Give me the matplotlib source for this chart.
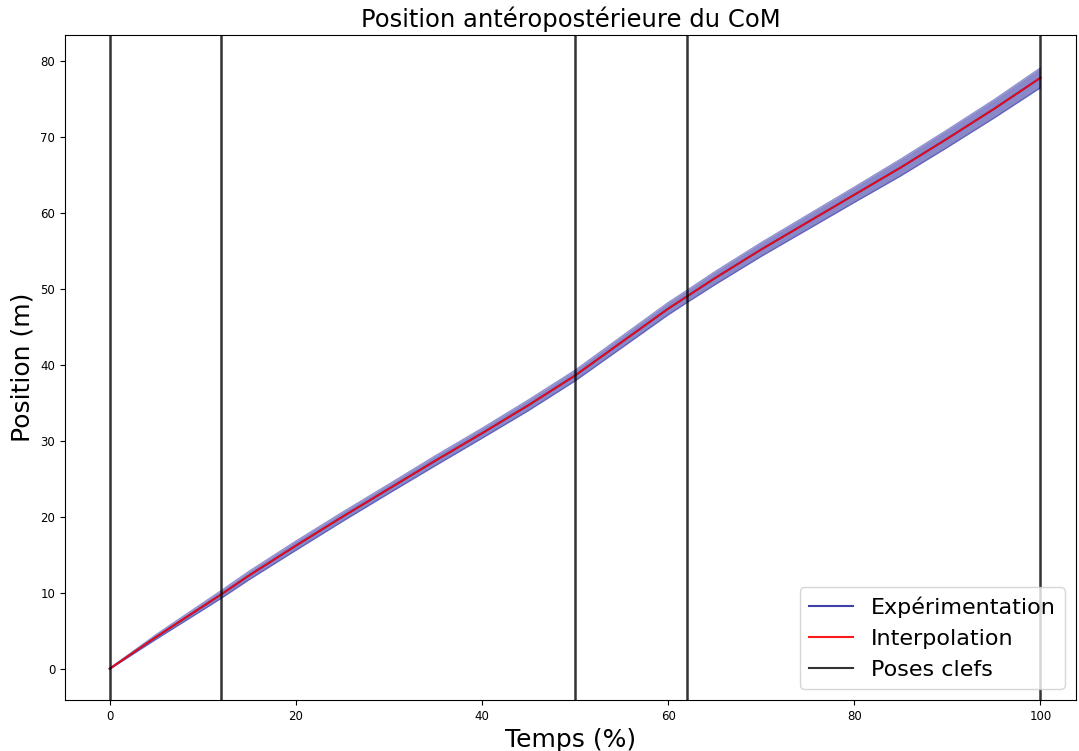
import matplotlib
matplotlib.use('Agg')
import matplotlib.pyplot as plt
import numpy as np

# Temps (%) and mean position of the CoM (m)
temps = [0, 5, 10, 12, 15, 20, 25, 30, 35, 40, 45, 50, 55, 60, 62, 65, 70, 75, 80, 85, 90, 95, 100]
position = [0, 4.2, 8.2, 9.8, 12.3, 16.2, 20.0, 23.7, 27.4, 31.0, 34.7, 38.6, 43.0, 47.4, 49.0,
            51.4, 55.2, 58.8, 62.4, 66.0, 69.8, 73.7, 77.8]
# spread of the experiments around the mean
ecart = [0.05, 0.3, 0.45, 0.5, 0.55, 0.6, 0.6, 0.6, 0.65, 0.65, 0.7, 0.7, 0.75, 0.8, 0.8,
         0.85, 0.9, 0.95, 1.0, 1.1, 1.15, 1.2, 1.3]
# key poses
poses_clefs = [0, 12, 50, 62, 100]


def main():
    fig = plt.figure(figsize=(10.79, 7.51), dpi=100)
    ax = fig.add_axes([0.0602, 0.068, 0.9368, 0.885])

    t = np.array(temps)
    p = np.array(position)
    e = np.array(ecart)

    # Experiments band
    ax.fill_between(t, p - e, p + e, color='#3a3aa8', alpha=0.6, linewidth=0)
    ax.plot(t, p - e, color='#4a4ab0', alpha=0.6, linewidth=1)
    ax.plot(t, p + e, color='#4a4ab0', alpha=0.6, linewidth=1)
    ax.plot(t, p, color='#4040a8', linewidth=1.5, label='Expérimentation')

    # Interpolation
    ax.plot(t, p, color='red', linewidth=1.3, alpha=0.9, label='Interpolation')

    # Key poses
    for i, x in enumerate(poses_clefs):
        ax.axvline(x=x, color='k', alpha=0.8, linewidth=1.8,
                   label='Poses clefs' if i == 0 else None)

    ax.set_xlim(-4.8, 103.8)
    ax.set_ylim(-4.1, 83.4)
    ax.set_xticks([0, 20, 40, 60, 80, 100])
    ax.set_yticks([0, 10, 20, 30, 40, 50, 60, 70, 80])
    ax.tick_params(labelsize=8.5)

    ax.set_title('Position antéropostérieure du CoM', fontsize=17.5)
    ax.set_xlabel('Temps (%)', fontsize=18)
    ax.set_ylabel('Position (m)', fontsize=18)
    leg = ax.legend(loc='lower right', fontsize=16)
    for line in leg.get_lines():
        line.set_linewidth(1.5)

    fig.savefig('out.png', dpi=100)


if __name__ == '__main__':
    main()
